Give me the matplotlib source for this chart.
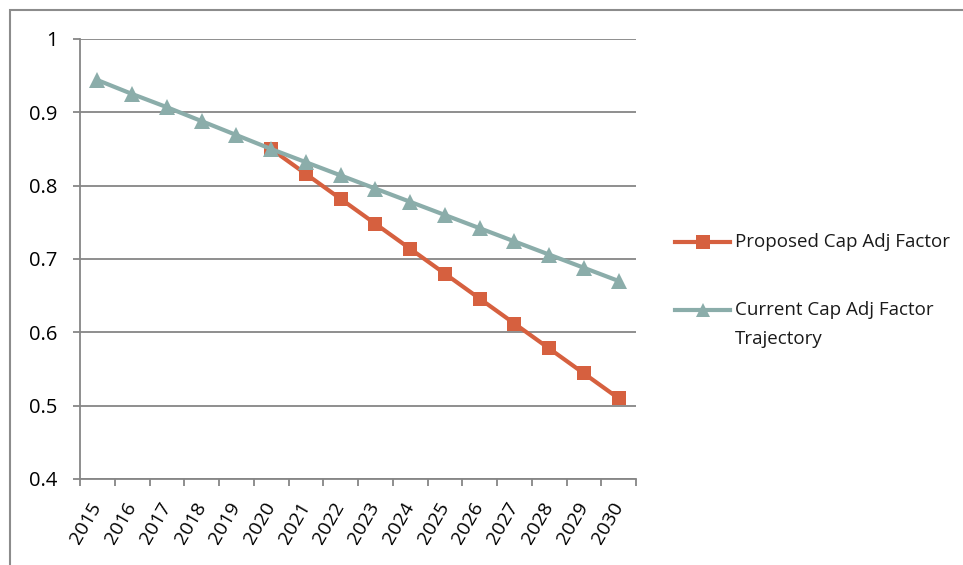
import matplotlib
matplotlib.use("Agg")
import matplotlib.pyplot as plt
from matplotlib.patches import Rectangle
from matplotlib.lines import Line2D

plt.rcParams['font.family'] = ['Open Sans', 'DejaVu Sans']

years = ["2015", "2016", "2017", "2018", "2019", "2020", "2021", "2022",
         "2023", "2024", "2025", "2026", "2027", "2028", "2029", "2030"]
current_traj = [0.944, 0.925, 0.907, 0.888, 0.869, 0.850, 0.832, 0.814,
                0.796, 0.778, 0.760, 0.742, 0.724, 0.706, 0.688, 0.670]
proposed_years = years[5:]
proposed = [0.850, 0.816, 0.782, 0.748, 0.714, 0.680, 0.646, 0.612,
            0.578, 0.544, 0.510]
y_ticks = [0.4, 0.5, 0.6, 0.7, 0.8, 0.9, 1.0]
y_tick_labels = ["0.4", "0.5", "0.6", "0.7", "0.8", "0.9", "1"]
series_names = ["Proposed Cap Adj Factor", "Current Cap Adj Factor\nTrajectory"]

red = "#D6603F"
teal = "#8BADAA"
grid_c = "#868686"

W, H = 963, 565
fig = plt.figure(figsize=(W / 100, H / 100), dpi=100)


def fx(px):
    return px / W


def fy(py):
    return 1 - py / H


# outer chart frame (top and left edges visible)
fig.patches.append(Rectangle((fx(10), -0.1), 1.2, fy(10) + 0.1,
                             transform=fig.transFigure, fill=False,
                             edgecolor="#8C8C8C", linewidth=1.5))

ax = fig.add_axes([fx(80), fy(479), fx(636 - 80), (479 - 39) / H])

idx = {y: i for i, y in enumerate(years)}
xc = [idx[y] for y in years]
xp = [idx[y] for y in proposed_years]

ax.plot(xp, proposed, color=red, lw=3, marker="s", ms=10.5,
        markeredgewidth=0, zorder=2)
ax.plot(xc, current_traj, color=teal, lw=3, marker="^", ms=11,
        markeredgewidth=0, zorder=3)

ax.set_xlim(-0.5, len(years) - 0.5)
ax.set_ylim(0.4, 1.0)
ax.set_yticks(y_ticks)
ax.set_yticklabels(y_tick_labels, fontsize=14.5)
ax.yaxis.grid(True, color=grid_c, lw=1.3)
ax.set_axisbelow(True)

ax.set_xticks([i - 0.5 for i in range(len(years) + 1)])
ax.set_xticklabels([])
ax.set_xticks(range(len(years)), minor=True)
ax.set_xticklabels(years, minor=True, rotation=60, fontsize=14,
                   ha="right", va="center", rotation_mode="anchor")
ax.tick_params(axis="x", which="minor", length=0, pad=18)
ax.tick_params(axis="x", which="major", length=5, color=grid_c, width=1.3)
ax.tick_params(axis="y", length=5, color=grid_c, width=1.3, pad=11)

for s in ["top", "right"]:
    ax.spines[s].set_visible(False)
for s in ["left", "bottom"]:
    ax.spines[s].set_color(grid_c)
    ax.spines[s].set_linewidth(1.3)

# legend, laid out in figure pixels
entries = [(series_names[0], red, "s", 241.7),
           (series_names[1], teal, "^", 310.0)]
for name, col, mk, yrow in entries:
    fig.add_artist(Line2D([fx(675), fx(730)], [fy(yrow), fy(yrow)],
                          transform=fig.transFigure, color=col, lw=3))
    fig.add_artist(Line2D([fx(702.5)], [fy(yrow)], transform=fig.transFigure,
                          color=col, marker=mk, ms=9.5 if mk == "s" else 10,
                          markeredgewidth=0, linestyle="none"))
    fig.text(fx(735), fy(yrow - 9), name, fontsize=13.5, ha="left",
             va="top", linespacing=1.78, color="#1a1a1a")

fig.savefig("out.png", dpi=100)
